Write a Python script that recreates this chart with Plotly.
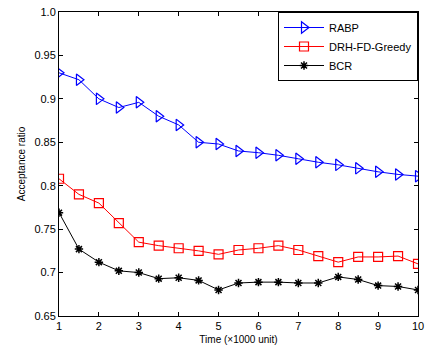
import plotly.graph_objects as go

x = [1, 1.5, 2, 2.5, 3, 3.5, 4, 4.5, 5, 5.5, 6, 6.5, 7, 7.5, 8, 8.5, 9, 9.5, 10]
rabp = [0.930, 0.922, 0.900, 0.890, 0.896, 0.880, 0.870, 0.850, 0.848, 0.840, 0.838,
        0.835, 0.831, 0.827, 0.824, 0.820, 0.816, 0.813, 0.811]
drh = [0.808, 0.790, 0.780, 0.757, 0.735, 0.731, 0.728, 0.725, 0.721, 0.726, 0.728,
       0.731, 0.726, 0.719, 0.712, 0.718, 0.718, 0.719, 0.710]
bcr = [0.769, 0.727, 0.712, 0.702, 0.700, 0.693, 0.694, 0.691, 0.680, 0.688, 0.689,
       0.689, 0.688, 0.688, 0.695, 0.692, 0.685, 0.684, 0.680]

xticks = [1, 2, 3, 4, 5, 6, 7, 8, 9, 10]
yticks = [0.65, 0.7, 0.75, 0.8, 0.85, 0.9, 0.95, 1.0]
ytick_labels = ["0.65", "0.7", "0.75", "0.8", "0.85", "0.9", "0.95", "1.0"]

fig = go.Figure()
fig.add_trace(go.Scatter(x=x, y=rabp, name="RABP", mode="lines+markers",
                         line=dict(color="#0000ff", width=1),
                         marker=dict(symbol="triangle-right-open", size=10, color="#0000ff",
                                     line=dict(width=1.2, color="#0000ff"))))
fig.add_trace(go.Scatter(x=x, y=drh, name="DRH-FD-Greedy", mode="lines+markers",
                         line=dict(color="#ff0000", width=1),
                         marker=dict(symbol="square-open", size=9, color="#ff0000",
                                     line=dict(width=1.2, color="#ff0000"))))
fig.add_trace(go.Scatter(x=x, y=bcr, name="BCR", mode="lines+markers",
                         line=dict(color="#000000", width=1),
                         marker=dict(symbol="asterisk-open", size=7, color="#000000",
                                     line=dict(width=1.5, color="#000000"))))

axis_common = dict(showline=True, linecolor="black", linewidth=1, mirror="ticks",
                   ticks="inside", ticklen=4, tickcolor="black", showgrid=False,
                   zeroline=False, tickfont=dict(family="Liberation Sans, Arial", size=11, color="black"))

fig.update_layout(
    width=428, height=347,
    margin=dict(l=59, r=4, t=12, b=31),
    paper_bgcolor="white", plot_bgcolor="white",
    font=dict(family="Liberation Sans, Arial", size=11, color="black"),
    xaxis=dict(range=[1, 10], tickvals=xticks, ticklabeloverflow="allow",
               title=dict(text="Time (×1000 unit)", font=dict(size=10), standoff=4), **axis_common),
    yaxis=dict(range=[0.65, 1.0], tickvals=yticks, ticktext=ytick_labels,
               title=dict(text="Acceptance ratio", font=dict(size=10), standoff=6), **axis_common),
    legend=dict(x=1, y=1, xanchor="right", yanchor="top", bgcolor="white",
                bordercolor="black", borderwidth=1, font=dict(size=11),
                tracegroupgap=0, itemwidth=40),
    showlegend=True,
)

fig.write_html("out.html")
